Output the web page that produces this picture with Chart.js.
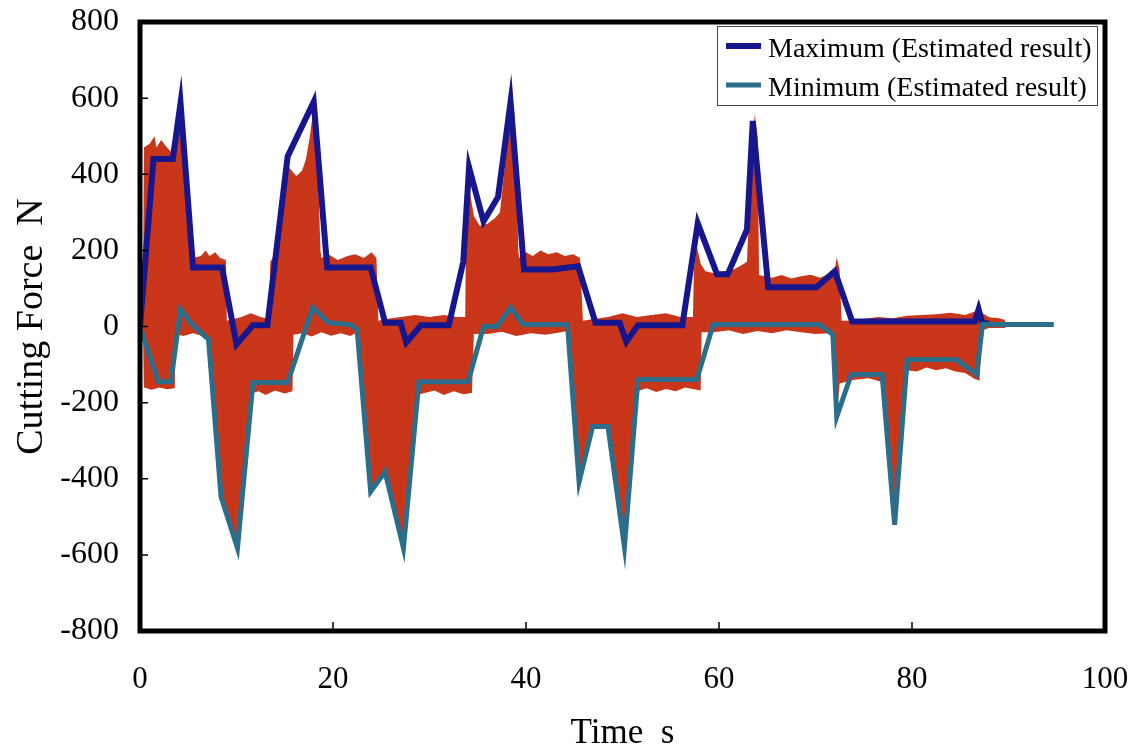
<!DOCTYPE html>
<html lang="en">
<head>
  <meta charset="UTF-8" />
  <title>Cutting Force</title>
  <script src="https://cdn.jsdelivr.net/npm/chart.js"></script>
  <style>
    body { margin: 0; background: #fff; }
    .chart-box { width: 1134px; height: 748px; }
  </style>
</head>
<body>
  <div class="chart-box"><canvas id="forceChart"></canvas></div>
  <script>
    // axis ticks
    const xTicks = [0, 20, 40, 60, 80, 100];
    const yTicks = [-800, -600, -400, -200, 0, 200, 400, 600, 800];

    // estimated maximum (s, N)
    const maxT = [0, 1.4, 3.4, 4.2, 5.5, 8.5, 10.0, 11.7, 13.2, 15.3, 18.0, 19.4, 23.9, 25.4, 27.0, 27.6, 29.1, 32.0,
                  33.5, 34.1, 35.6, 37.1, 38.4, 39.8, 42.7, 45.4, 47.2, 49.7, 50.4, 51.6, 56.2, 57.8, 59.8, 60.9,
                  62.9, 63.5, 65.1, 70.1, 72.0, 73.8, 86.5, 86.9, 87.3, 88.0];
    const maxF = [0, 440, 440, 587, 155, 155, -47, 3, 3, 447, 590, 155, 155, 10, 10, -42, 3, 3,
                  170, 418, 276, 340, 590, 150, 150, 158, 10, 10, -40, 3, 3, 271, 137, 137,
                  255, 540, 103, 103, 145, 13, 13, 45, 8, 8];

    // estimated minimum (s, N)
    const minT = [0, 1.9, 3.2, 4.2, 5.4, 7.1, 8.4, 10.1, 11.7, 15.3, 17.9, 19.5, 21.8, 22.5, 23.9, 25.4, 27.3, 28.9,
                  34.0, 35.6, 37.0, 38.4, 39.7, 44.3, 45.5, 46.9, 48.5, 50.2, 51.6, 57.7, 59.4, 70.4, 71.8, 72.2,
                  73.7, 76.9, 78.2, 79.5, 84.6, 86.7, 87.3, 94.7];
    const minF = [0, -145, -145, 45, 5, -34, -447, -582, -147, -147, 50, 10, 5, -8, -434, -382, -582, -145,
                  -145, 0, 0, 50, 5, 5, -408, -263, -263, -579, -139, -139, 5, 5, -21, -237,
                  -126, -126, -521, -87, -87, -126, 5, 5];

    // measured signal, upper edge
    const sigHiT = [0.3, 0.4, 1.0, 1.5, 1.7, 2.2, 2.8, 3.2, 3.5, 4.0, 4.3, 4.5, 5.3, 5.5, 6.3, 6.8, 7.2, 7.8, 8.3, 8.9,
                    9.0, 10.5, 11.5, 12.5, 13.4, 13.5, 14.0, 14.3, 15.0, 15.4, 16.2, 16.8, 17.2, 17.6, 18.1, 18.3, 18.7,
                    18.8, 19.5, 20.5, 21.5, 22.3, 23.2, 24.0, 24.5, 24.7, 25.5, 27.0, 28.5, 30.0, 31.5, 32.8, 33.7,
                    33.8, 34.2, 34.6, 35.2, 36.0, 36.8, 37.3, 37.8, 38.6, 38.8, 39.0, 39.2, 39.3, 40.0, 40.7, 41.5,
                    42.3, 43.2, 44.0, 44.9, 45.6, 45.9, 47.0, 48.5, 50.0, 51.5, 53.0, 54.5, 56.0, 57.3, 57.4, 57.7,
                    58.1, 58.6, 59.5, 60.5, 61.5, 62.3, 62.9, 63.2, 63.7, 64.0, 64.15, 65.5, 66.5, 67.5, 68.5, 69.5,
                    70.5, 71.5, 72.0, 72.2, 72.5, 72.7, 73.5, 75.0, 76.5, 78.0, 79.5, 81.0, 82.5, 84.0, 85.5, 86.6,
                    87.0, 87.3, 88.0, 89.0, 89.6, 89.7];
    const sigHiF = [0, 470, 480, 500, 470, 490, 470, 460, 500, 520, 592, 480, 200, 180, 185, 200, 185, 195, 180, 175,
                    15, 25, 35, 25, 20, 170, 190, 260, 380, 420, 395, 410, 440, 500, 595, 520, 200,
                    180, 190, 175, 185, 190, 180, 195, 180, 15, 20, 25, 30, 25, 30, 25, 25,
                    290, 350, 290, 265, 270, 285, 300, 420, 597, 560, 420, 200, 180, 195, 185, 200,
                    190, 195, 185, 190, 180, 15, 20, 25, 35, 25, 30, 35, 25, 25, 150, 210,
                    165, 145, 140, 145, 150, 160, 170, 350, 558, 500, 135, 128, 135, 126, 132, 136,
                    128, 140, 150, 182, 150, 15, 15, 20, 25, 22, 28, 30, 32, 36, 30, 40,
                    66, 35, 24, 22, 18, 0];

    // measured signal, lower edge
    const sigLoT = [0.3, 0.4, 1.2, 2.0, 2.8, 3.6, 3.7, 4.5, 5.5, 6.5, 7.1, 8.4, 10.1, 11.5, 12.3, 13.0, 14.0, 15.0,
                    15.8, 15.9, 16.8, 17.8, 18.8, 19.8, 20.8, 21.8, 22.5, 23.9, 25.4, 27.3, 28.7, 29.5, 30.5, 31.5,
                    32.5, 33.5, 34.4, 34.6, 36.0, 37.5, 39.0, 40.5, 42.0, 43.5, 44.3, 45.5, 46.9, 48.5, 50.2, 51.5,
                    52.5, 53.5, 54.5, 55.5, 56.5, 58.1, 58.2, 59.5, 61.0, 62.5, 64.0, 65.5, 67.0, 68.5, 70.0, 71.5,
                    71.8, 72.2, 72.5, 74.0, 75.5, 76.8, 78.2, 79.4, 80.5, 81.5, 82.5, 83.5, 84.5, 85.5, 86.5, 87.0,
                    87.3, 88.0, 89.7];
    const sigLoF = [0, -160, -166, -160, -165, -162, -20, -25, -18, -25, -34, -452, -592, -176, -170, -180, -168, -176,
                    -170, -22, -18, -26, -15, -24, -18, -25, -15, -440, -388, -592, -180, -175, -168, -180,
                    -170, -178, -175, -20, -20, -14, -25, -18, -22, -16, -12, -414, -268, -268, -586, -170,
                    -162, -172, -164, -170, -160, -168, -15, -15, -10, -20, -12, -18, -10, -15, -20, -18,
                    -25, -242, -150, -140, -136, -145, -526, -115, -118, -108, -115, -110, -118, -122, -138, -142,
                    -10, -4, 0];

    const pts = (t, f) => t.map((v, i) => ({ x: v, y: f[i] }));

    const serif = '"Liberation Serif", "Times New Roman", serif';
    const blue = '#16168e';
    const teal = '#2a6e8c';
    const red = '#c9361a';

    // drop the label-overflow padding so the plot box sits where layout.padding puts it
    const noOverflow = s => { s.paddingLeft = s.paddingRight = s.paddingTop = s.paddingBottom = 0; };

    // frame, inward tick marks and legend box
    const framePlugin = {
      id: 'frame',
      afterDatasetsDraw(chart) {
        const { ctx, chartArea: a, scales: { x, y } } = chart;
        ctx.save();
        ctx.strokeStyle = '#000';
        ctx.lineWidth = 1.5;
        ctx.beginPath();
        xTicks.slice(1, -1).forEach(v => {
          const px = x.getPixelForValue(v);
          ctx.moveTo(px, a.bottom);
          ctx.lineTo(px, a.bottom - 9);
        });
        yTicks.slice(1, -1).forEach(v => {
          const py = y.getPixelForValue(v);
          ctx.moveTo(a.left, py);
          ctx.lineTo(a.left + 8, py);
        });
        ctx.stroke();

        ctx.lineWidth = 5;
        ctx.strokeRect(a.left, a.top, a.right - a.left, a.bottom - a.top);

        // legend
        const lx = a.right - 388, ly = a.top + 4, lw = 380, lh = 79;
        ctx.fillStyle = '#fff';
        ctx.fillRect(lx, ly, lw, lh);
        ctx.lineWidth = 1;
        ctx.strokeStyle = '#444';
        ctx.strokeRect(lx + 0.5, ly + 0.5, lw, lh);
        const rows = [
          { label: chart.data.datasets[1].label, color: blue, w: 6, yl: ly + 20, yt: ly + 24 },
          { label: chart.data.datasets[0].label, color: teal, w: 5, yl: ly + 59, yt: ly + 63 }
        ];
        ctx.font = '28px ' + serif;
        ctx.textBaseline = 'middle';
        ctx.textAlign = 'left';
        rows.forEach(r => {
          ctx.strokeStyle = r.color;
          ctx.lineWidth = r.w;
          ctx.beginPath();
          ctx.moveTo(lx + 9, r.yl);
          ctx.lineTo(lx + 44, r.yl);
          ctx.stroke();
          ctx.fillStyle = '#000';
          ctx.fillText(r.label, lx + 51, r.yt);
        });
        ctx.restore();
      }
    };

    new Chart(document.getElementById('forceChart').getContext('2d'), {
      type: 'line',
      data: {
        datasets: [
          { label: 'Minimum (Estimated result)', data: pts(minT, minF), borderColor: teal, borderWidth: 5,
            pointRadius: 0, fill: false, tension: 0 },
          { label: 'Maximum (Estimated result)', data: pts(maxT, maxF), borderColor: blue, borderWidth: 6,
            pointRadius: 0, fill: false, tension: 0 },
          // the two edges are filled toward zero, overlapping a little so no seam shows
          { label: 'signal upper', data: pts(sigHiT, sigHiF), borderWidth: 0, borderColor: red,
            backgroundColor: red, pointRadius: 0, fill: { value: -4 }, tension: 0 },
          { label: 'signal lower', data: pts(sigLoT, sigLoF), borderWidth: 0, borderColor: red,
            backgroundColor: red, pointRadius: 0, fill: { value: 4 }, tension: 0 }
        ]
      },
      options: {
        responsive: true,
        maintainAspectRatio: false,
        animation: false,
        layout: { padding: { top: 22, right: 29, left: 0, bottom: 0 } },
        plugins: { legend: { display: false }, tooltip: { enabled: false } },
        scales: {
          x: {
            type: 'linear', min: 0, max: 100,
            grid: { display: false, drawTicks: false }, border: { display: false },
            ticks: { stepSize: 20, padding: 30, color: '#000', font: { family: serif, size: 31 }, maxRotation: 0 },
            title: { display: true, text: 'Time  s', color: '#000',
                     font: { family: serif, size: 35, lineHeight: 0.8 }, padding: { top: 0, bottom: 0 } },
            afterFit: s => { s.height = 117; noOverflow(s); }
          },
          y: {
            type: 'linear', min: -800, max: 800,
            grid: { display: false, drawTicks: false }, border: { display: false },
            ticks: { stepSize: 200, padding: 21, color: '#000', font: { family: serif, size: 32 } },
            title: { display: true, text: 'Cutting Force  N', color: '#000',
                     font: { family: serif, size: 38, lineHeight: 1 }, padding: { top: 13, bottom: 0 } },
            afterFit: s => { s.width = 140; noOverflow(s); }
          }
        }
      },
      plugins: [framePlugin]
    });
  </script>
</body>
</html>
